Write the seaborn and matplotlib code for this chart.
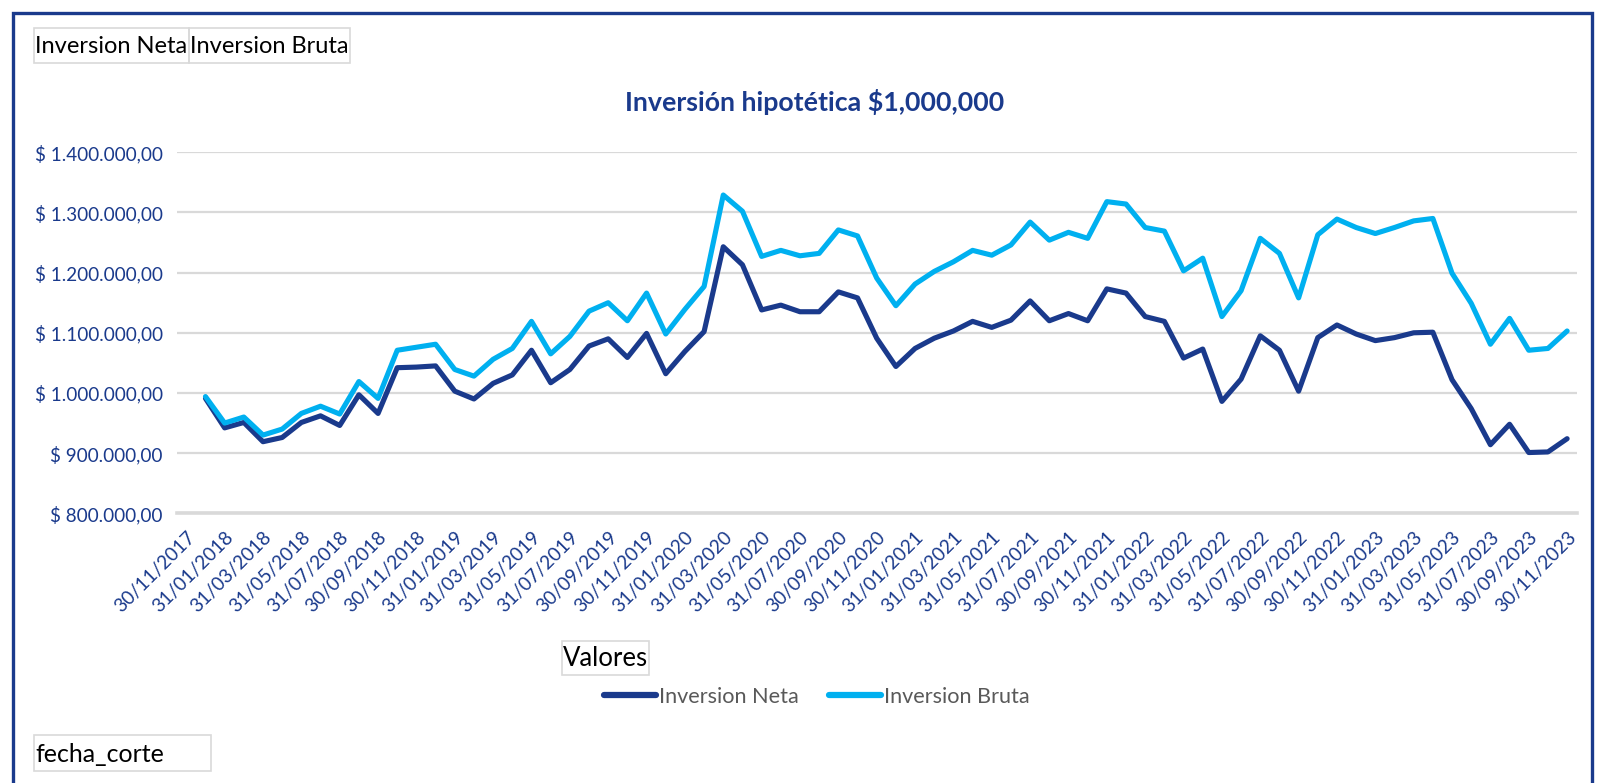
import numpy as np
import pandas as pd
import matplotlib
matplotlib.use("Agg")
import matplotlib.pyplot as plt
import seaborn as sns
from matplotlib.ticker import FuncFormatter, FixedLocator
from matplotlib.patches import Rectangle
from matplotlib.lines import Line2D

# ---------------- data ----------------
tick_labels = [
    "30/11/2017", "31/01/2018", "31/03/2018", "31/05/2018", "31/07/2018", "30/09/2018",
    "30/11/2018", "31/01/2019", "31/03/2019", "31/05/2019", "31/07/2019", "30/09/2019",
    "30/11/2019", "31/01/2020", "31/03/2020", "31/05/2020", "31/07/2020", "30/09/2020",
    "30/11/2020", "31/01/2021", "31/03/2021", "31/05/2021", "31/07/2021", "30/09/2021",
    "30/11/2021", "31/01/2022", "31/03/2022", "31/05/2022", "31/07/2022", "30/09/2022",
    "30/11/2022", "31/01/2023", "31/03/2023", "31/05/2023", "31/07/2023", "30/09/2023",
    "30/11/2023",
]

# monthly values, 31/12/2017 .. 30/11/2023 (category 30/11/2017 is empty)
inversion_neta = [
    991000, 942000, 951000, 919000, 926000, 951000, 962000, 946000, 997000, 966000,
    1042000, 1043000, 1045000, 1003000, 990000, 1016000, 1030000, 1071000, 1017000, 1039000,
    1078000, 1090000, 1059000, 1099000, 1032000, 1069000, 1102000, 1243000, 1213000, 1138000,
    1146000, 1135000, 1135000, 1168000, 1158000, 1091000, 1044000, 1074000, 1091000, 1103000,
    1119000, 1109000, 1121000, 1153000, 1120000, 1132000, 1120000, 1173000, 1166000, 1127000,
    1119000, 1058000, 1073000, 986000, 1023000, 1095000, 1071000, 1003000, 1092000, 1113000,
    1098000, 1087000, 1092000, 1100000, 1101000, 1022000, 974000, 914000, 948000, 901000,
    902000, 924000,
]
inversion_bruta = [
    994000, 950000, 960000, 930000, 940000, 966000, 978000, 965000, 1019000, 991000,
    1071000, 1076000, 1081000, 1039000, 1028000, 1056000, 1074000, 1119000, 1065000, 1094000,
    1136000, 1150000, 1120000, 1166000, 1098000, 1139000, 1177000, 1329000, 1302000, 1227000,
    1237000, 1228000, 1232000, 1271000, 1261000, 1191000, 1145000, 1181000, 1202000, 1218000,
    1237000, 1229000, 1246000, 1284000, 1254000, 1267000, 1257000, 1318000, 1314000, 1275000,
    1269000, 1203000, 1224000, 1127000, 1170000, 1257000, 1232000, 1158000, 1263000, 1289000,
    1275000, 1265000, 1275000, 1286000, 1290000, 1199000, 1149000, 1081000, 1124000, 1071000,
    1074000, 1103000,
]
series_names = ["Inversion Neta", "Inversion Bruta"]
y_ticks = [800000, 900000, 1000000, 1100000, 1200000, 1300000, 1400000]

# ---------------- style ----------------
NAVY = "#1a3a8c"
CYAN = "#00b0f0"
GRID = "#d9d9d9"

sns.set_theme(style="white")
plt.rcParams['font.family'] = ['Lato', 'DejaVu Sans']

W, H = 1598, 783
fig = plt.figure(figsize=(W / 100, H / 100), dpi=100)
fig.patch.set_facecolor("white")

def fx(px):
    return px / W

def fy(py):
    return 1 - py / H

ax = fig.add_axes([fx(176.7), fy(513.3), 1400 / W, 361 / H])

n = len(inversion_neta)
pos = np.arange(1, n + 1)
df = pd.DataFrame({
    "pos": np.concatenate([pos, pos]),
    "valor": inversion_neta + inversion_bruta,
    "serie": [series_names[0]] * n + [series_names[1]] * n,
})
palette = {series_names[0]: NAVY, series_names[1]: CYAN}
sns.lineplot(data=df, x="pos", y="valor", hue="serie", hue_order=series_names,
             palette=palette, linewidth=3.7, ax=ax, legend=False)
for ln in ax.lines:
    ln.set_solid_joinstyle("round")
    ln.set_solid_capstyle("round")

ax.set_xlim(-0.5, 72.5)
ax.set_ylim(800000, 1400000)
ax.yaxis.set_major_locator(FixedLocator(y_ticks))

def money(v, _):
    s = f"{v:,.2f}".replace(",", "X").replace(".", ",").replace("X", ".")
    return f"$ {s}"

ax.yaxis.set_major_formatter(FuncFormatter(money))
ax.yaxis.grid(True, color=GRID, linewidth=1.6)
ax.set_axisbelow(True)
for side in ["top", "right", "left"]:
    ax.spines[side].set_visible(False)
ax.spines["bottom"].set_color(GRID)
ax.spines["bottom"].set_linewidth(2.6)

ax.set_xticks(np.arange(0, 73, 2))
ax.set_xticklabels(tick_labels, rotation=45, ha="right", rotation_mode="anchor")
ax.tick_params(axis="x", length=0, pad=11, labelsize=13.8, labelcolor=NAVY)
ax.tick_params(axis="y", length=0, pad=10, labelsize=13.6, labelcolor=NAVY)
ax.set_xlabel("")
ax.set_ylabel("")

# title
fig.text(fx(815), fy(102), "Inversión hipotética $1,000,000", ha="center", va="center",
         fontsize=19.3, fontweight="bold", color=NAVY)

# legend
handles = [Line2D([], [], color=NAVY, lw=4.5), Line2D([], [], color=CYAN, lw=4.5)]
fig.legend(handles, series_names, loc="center", bbox_to_anchor=(fx(817), fy(697)), ncol=2,
           frameon=False, handlelength=2.4, handletextpad=0.15, columnspacing=1.4,
           fontsize=15.6, labelcolor="#595959")

# pivot field buttons
def field_button(x0, y0, x1, y1, text, size):
    fig.add_artist(Rectangle((fx(x0), fy(y1)), (x1 - x0) / W, (y1 - y0) / H,
                             transform=fig.transFigure, fill=False, edgecolor=GRID, lw=1.2))
    fig.text(fx(x0 + 1), fy((y0 + y1) / 2 + 1), text, ha="left", va="center",
             fontsize=size, color="black")

field_button(34, 28, 189, 63, "Inversion Neta", 17)
field_button(189, 28, 350, 63, "Inversion Bruta", 17)
field_button(562, 641, 649, 675, "Valores", 18.5)
field_button(34, 735, 211, 771, "fecha_corte", 18)

# chart border
fig.add_artist(Rectangle((fx(13), -0.05), (1592 - 13) / W, fy(13) + 0.05,
                         transform=fig.transFigure, fill=False, edgecolor=NAVY, lw=2.4))

fig.savefig("out.png", dpi=100, facecolor="white")
